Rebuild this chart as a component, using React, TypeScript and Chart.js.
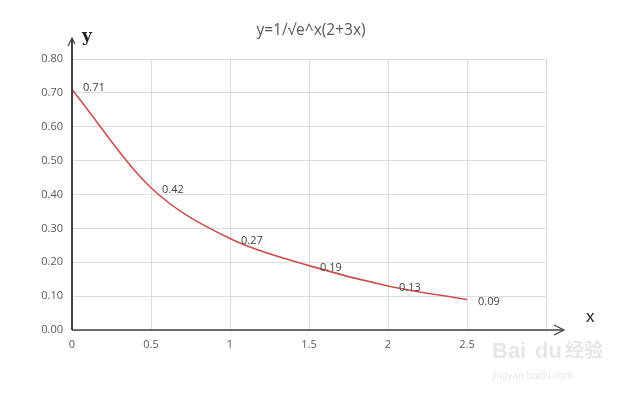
import React, { useEffect, useRef } from "react";
import { Chart, registerables } from "chart.js";

Chart.register(...registerables);

const xValues = [0, 0.5, 1, 1.5, 2, 2.5];
const yValues = [0.71, 0.42, 0.27, 0.19, 0.13, 0.09];
const chartTitle = "y=1/\u221Ae^x(2+3x)";
const xAxisName = "x";
const yAxisName = "y";

const FONT = "'Open Sans', 'Noto Sans', sans-serif";
const TEXT = "#595959";

const decorPlugin = {
  id: "decor",
  afterDatasetsDraw(chart: any) {
    const ctx = chart.ctx;
    const a = chart.chartArea;
    const meta = chart.getDatasetMeta(0);
    ctx.save();
    // data labels
    ctx.font = `11px ${FONT}`;
    ctx.fillStyle = "#404040";
    ctx.textAlign = "left";
    ctx.textBaseline = "middle";
    meta.data.forEach((pt: any, i: number) => {
      ctx.fillText(yValues[i].toFixed(2), pt.x + 11, pt.y + (i === 0 ? -2 : 2));
    });
    // axes lines with arrows
    ctx.strokeStyle = "#404040";
    ctx.lineWidth = 2;
    ctx.beginPath();
    ctx.moveTo(a.left, a.bottom);
    ctx.lineTo(a.left, a.top - 20);
    ctx.stroke();
    ctx.lineWidth = 1.2;
    ctx.beginPath();
    ctx.moveTo(a.left - 4, a.top - 13);
    ctx.lineTo(a.left, a.top - 21);
    ctx.lineTo(a.left + 3, a.top - 15);
    ctx.stroke();
    ctx.lineWidth = 1.5;
    ctx.beginPath();
    ctx.moveTo(a.left, a.bottom);
    ctx.lineTo(a.right + 17, a.bottom);
    ctx.stroke();
    ctx.lineWidth = 1.2;
    ctx.beginPath();
    ctx.moveTo(a.right + 8, a.bottom - 5);
    ctx.lineTo(a.right + 18, a.bottom);
    ctx.lineTo(a.right + 8, a.bottom + 5);
    ctx.stroke();
    // axis names
    ctx.fillStyle = "#222";
    ctx.font = `bold 17px 'DejaVu Serif', serif`;
    ctx.textAlign = "left";
    ctx.textBaseline = "middle";
    ctx.fillText(yAxisName, a.left + 10, a.top - 22);
    ctx.font = `17px 'Liberation Sans', sans-serif`;
    ctx.fillText(xAxisName, a.right + 40, a.bottom - 13);
    // title
    ctx.fillStyle = TEXT;
    ctx.font = `15.5px ${FONT}`;
    ctx.textAlign = "center";
    ctx.fillText(chartTitle, 311, 31);
    // watermark
    ctx.fillStyle = "#e6e6e6";
    ctx.font = `bold 22px 'Liberation Sans', sans-serif`;
    ctx.textAlign = "left";
    ctx.fillText("Bai", 492, 352);
    ctx.fillText("du", 535, 352);
    ctx.font = `bold 19px 'Noto Sans CJK SC', sans-serif`;
    ctx.fillText("\u7ECF\u9A8C", 565, 350);
    ctx.font = `10px 'Liberation Sans', sans-serif`;
    ctx.fillText("jingyan.baidu.com", 492, 376);
    ctx.restore();
  },
};

export default function App() {
  const ref = useRef<HTMLCanvasElement | null>(null);
  useEffect(() => {
    if (!ref.current) return;
    const chart = new Chart(ref.current, {
      type: "line",
      data: {
        datasets: [
          {
            data: xValues.map((x, i) => ({ x, y: yValues[i] })),
            borderColor: "#c9504f",
            borderWidth: 1.6,
            pointRadius: 0,
            cubicInterpolationMode: "monotone",
            fill: false,
          },
        ],
      },
      options: {
        animation: false,
        responsive: false,
        maintainAspectRatio: false,
        layout: { padding: { top: 59, right: 94, left: 0, bottom: 0 } },
        plugins: {
          legend: { display: false },
          title: { display: false },
          tooltip: { enabled: false },
        },
        scales: {
          x: {
            type: "linear",
            min: 0,
            max: 3,
            afterFit: (s: any) => {
              s.height = 68;
            },
            ticks: {
              stepSize: 0.5,
              padding: 8,
              color: TEXT,
              font: { size: 11, family: FONT },
              callback: (v: any) => (Number(v) === 3 ? "" : String(v)),
            },
            grid: { color: "#dcdcdc", drawTicks: false, lineWidth: 1 },
            border: { display: false },
          },
          y: {
            min: 0,
            max: 0.8,
            afterFit: (s: any) => {
              s.width = 72;
            },
            ticks: {
              stepSize: 0.1,
              padding: 9,
              color: TEXT,
              font: { size: 11, family: FONT },
              callback: (v: any) => Number(v).toFixed(2),
            },
            grid: { color: "#dcdcdc", drawTicks: false, lineWidth: 1 },
            border: { display: false },
          },
        },
      },
      plugins: [decorPlugin],
    } as any);
    return () => chart.destroy();
  }, []);
  return (
    <div style={{ position: "fixed", left: 0, top: 0, width: 640, height: 398, background: "#fff" }}>
      <canvas ref={ref} width={640} height={398} style={{ width: 640, height: 398 }} />
    </div>
  );
}
